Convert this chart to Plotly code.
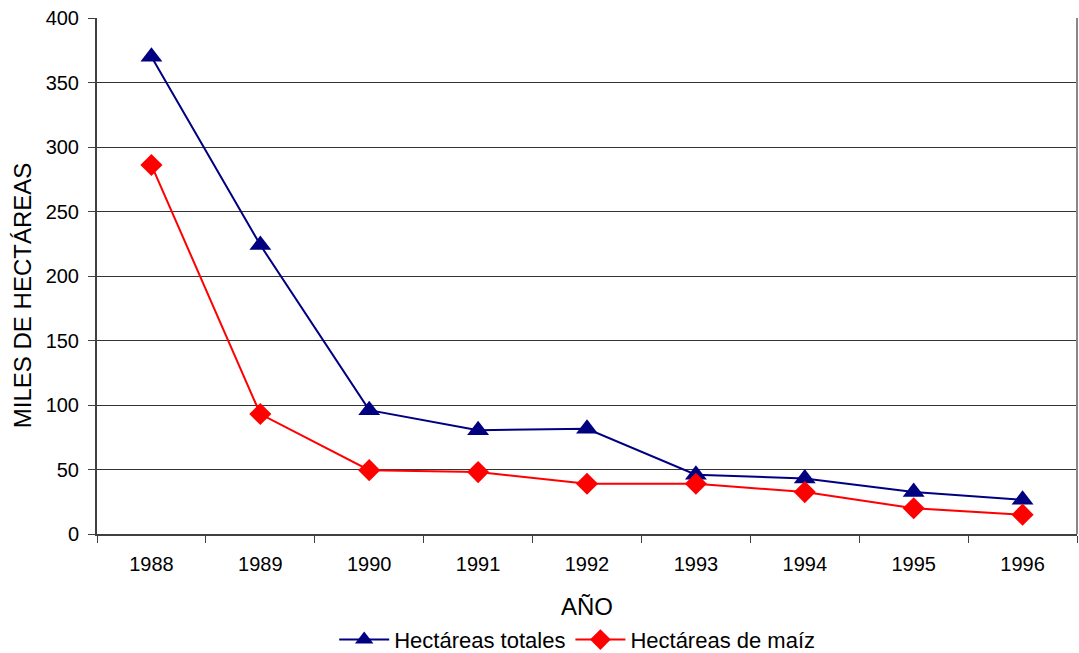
import plotly.graph_objects as go

years = ["1988", "1989", "1990", "1991", "1992", "1993", "1994", "1995", "1996"]
totales = [370, 224, 96, 80.5, 81.5, 46, 43, 32.5, 26.5]
maiz = [286, 93, 49.5, 48, 39, 39, 32.5, 20, 15]

font = "Liberation Sans, Arial, sans-serif"

fig = go.Figure()
fig.add_trace(go.Scatter(
    x=years, y=totales, mode="lines+markers", name="Hectáreas totales",
    line=dict(color="#000080", width=2),
    marker=dict(symbol="triangle-up", size=19, color="#000080"),
))
fig.add_trace(go.Scatter(
    x=years, y=maiz, mode="lines+markers", name="Hectáreas de maíz",
    line=dict(color="#FF0000", width=2),
    marker=dict(symbol="diamond", size=17, color="#FF0000"),
))

fig.update_layout(
    width=1079, height=653,
    margin=dict(l=97, r=2, t=18, b=119, autoexpand=False),
    paper_bgcolor="white", plot_bgcolor="white",
    font=dict(family=font, size=20, color="black"),
    showlegend=True,
    legend=dict(orientation="h", x=0.49, xanchor="center", y=-0.205, yanchor="middle",
                font=dict(size=22), tracegroupgap=0, itemwidth=50),
    xaxis=dict(
        type="category", tickson="boundaries", ticks="outside", ticklen=7,
        tickcolor="#404040", showline=True, linecolor="#404040", linewidth=2,
        showgrid=False, mirror=False, range=[-0.5, 8.5], automargin=False,
        ticklabelstandoff=11,
        title=dict(text="AÑO", font=dict(size=24), standoff=24),
        tickfont=dict(size=20),
    ),
    yaxis=dict(
        range=[0, 400], dtick=50, ticks="outside", ticklen=7, tickcolor="#404040",
        showline=True, linecolor="#404040", linewidth=2, automargin=False,
        ticklabelstandoff=5,
        showgrid=True, gridcolor="#333333", gridwidth=1, zeroline=False,
        tickfont=dict(size=20),
    ),
    annotations=[dict(
        text="MILES DE HECTÁREAS", textangle=-90, xref="paper", yref="paper",
        x=-0.0765, y=0.461, xanchor="center", yanchor="middle", showarrow=False,
        font=dict(size=24),
    )],
)
fig.add_shape(type="line", xref="paper", yref="paper", x0=1, x1=1, y0=0, y1=1,
              line=dict(color="#888888", width=2))

fig.write_html("out.html")
